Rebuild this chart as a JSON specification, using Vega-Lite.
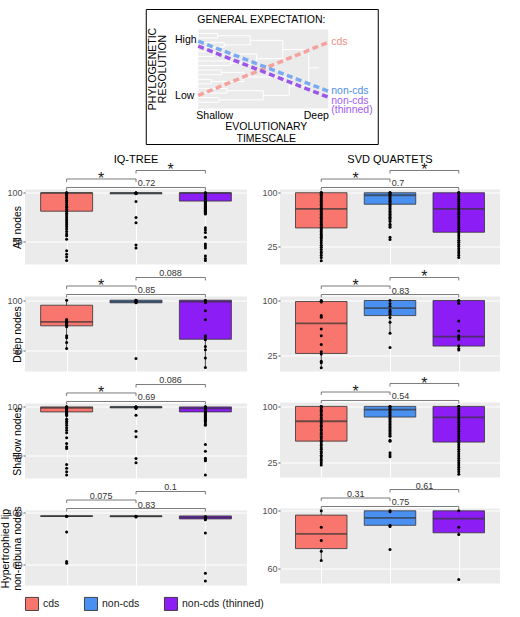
{
"padding":{"left":0,"top":8.5,"right":0,"bottom":0},
"config":{"font":"Liberation Sans","view":{"stroke":null,"fill":"#EBEBEB"},
"axis":{"domain":false,"labelFontSize":9,"labelColor":"#4D4D4D","tickColor":"#333333","tickSize":2,"tickWidth":0.8,"labelPadding":1,"titleFontSize":10.5,"titleFontWeight":"normal","titleColor":"#000000","titlePadding":-16,"labelOverlap":false},
"title":{"fontSize":11,"fontWeight":"normal","anchor":"middle","color":"#000000"}},
"datasets":{
"insetRects":[{"part":"frame","x":-0.4,"x2":1.3846,"y":-0.4557,"y2":1.2532},{"part":"panel","x":0,"x2":1,"y":0,"y2":1}],
"insetTree":[
{"x":0,"x2":0.15,"y":0.95,"y2":0.95},{"x":0,"x2":0.15,"y":0.892,"y2":0.892},{"x":0,"x2":0.2,"y":0.834,"y2":0.834},{"x":0,"x2":0.2,"y":0.776,"y2":0.776},{"x":0,"x2":0.12,"y":0.718,"y2":0.718},{"x":0,"x2":0.12,"y":0.66,"y2":0.66},{"x":0,"x2":0.25,"y":0.602,"y2":0.602},{"x":0,"x2":0.25,"y":0.544,"y2":0.544},{"x":0,"x2":0.18,"y":0.486,"y2":0.486},{"x":0,"x2":0.18,"y":0.428,"y2":0.428},{"x":0,"x2":0.1,"y":0.37,"y2":0.37},{"x":0,"x2":0.1,"y":0.312,"y2":0.312},{"x":0,"x2":0.22,"y":0.254,"y2":0.254},{"x":0,"x2":0.22,"y":0.196,"y2":0.196},{"x":0,"x2":0.16,"y":0.138,"y2":0.138},{"x":0,"x2":0.16,"y":0.08,"y2":0.08},
{"x":0.15,"x2":0.4,"y":0.921,"y2":0.921},{"x":0.2,"x2":0.4,"y":0.805,"y2":0.805},{"x":0.12,"x2":0.45,"y":0.689,"y2":0.689},{"x":0.25,"x2":0.45,"y":0.573,"y2":0.573},{"x":0.18,"x2":0.35,"y":0.457,"y2":0.457},{"x":0.1,"x2":0.35,"y":0.341,"y2":0.341},{"x":0.22,"x2":0.5,"y":0.225,"y2":0.225},{"x":0.16,"x2":0.5,"y":0.109,"y2":0.109},
{"x":0.4,"x2":0.65,"y":0.863,"y2":0.863},{"x":0.45,"x2":0.65,"y":0.631,"y2":0.631},{"x":0.35,"x2":0.7,"y":0.399,"y2":0.399},{"x":0.5,"x2":0.7,"y":0.167,"y2":0.167},
{"x":0.65,"x2":0.85,"y":0.747,"y2":0.747},{"x":0.7,"x2":0.85,"y":0.283,"y2":0.283},{"x":0.85,"x2":0.93,"y":0.515,"y2":0.515},
{"x":0.15,"x2":0.15,"y":0.95,"y2":0.892},{"x":0.2,"x2":0.2,"y":0.834,"y2":0.776},{"x":0.12,"x2":0.12,"y":0.718,"y2":0.66},{"x":0.25,"x2":0.25,"y":0.602,"y2":0.544},{"x":0.18,"x2":0.18,"y":0.486,"y2":0.428},{"x":0.1,"x2":0.1,"y":0.37,"y2":0.312},{"x":0.22,"x2":0.22,"y":0.254,"y2":0.196},{"x":0.16,"x2":0.16,"y":0.138,"y2":0.08},
{"x":0.4,"x2":0.4,"y":0.921,"y2":0.805},{"x":0.45,"x2":0.45,"y":0.689,"y2":0.573},{"x":0.35,"x2":0.35,"y":0.457,"y2":0.341},{"x":0.5,"x2":0.5,"y":0.225,"y2":0.109},
{"x":0.65,"x2":0.65,"y":0.863,"y2":0.631},{"x":0.7,"x2":0.7,"y":0.399,"y2":0.167},{"x":0.85,"x2":0.85,"y":0.747,"y2":0.283}],
"insetLines":[{"series":"cds","x":0,"y":0.165},{"series":"cds","x":1,"y":0.839},{"series":"non-cds","x":0,"y":0.852},{"series":"non-cds","x":1,"y":0.219},{"series":"thinned","x":0,"y":0.789},{"series":"thinned","x":1,"y":0.143}],
"insetLabels":[{"label":"GENERAL EXPECTATION:","x":0.485,"y":1.114},{"label":"High","x":-0.096,"y":0.869},{"label":"Low","x":-0.104,"y":0.156},{"label":"Shallow","x":0.127,"y":-0.089},{"label":"Deep","x":0.908,"y":-0.089},{"label":"EVOLUTIONARY","x":0.523,"y":-0.228},{"label":"TIMESCALE","x":0.523,"y":-0.386}],
"insetTitles":[{"label":"PHYLOGENETIC","x":-0.348,"y":0.5},{"label":"RESOLUTION","x":-0.272,"y":0.5}],
"insetSeries":[{"label":"cds","series":"cds","x":1.023,"y":0.839},{"label":"non-cds","series":"non-cds","x":1.023,"y":0.219},{"label":"non-cds","series":"thinned","x":1.023,"y":0.101},{"label":"(thinned)","series":"thinned","x":1.023,"y":-0.025}],
"boxes":[
{"panel":"L1","method":"cds","lower":55.5,"q1":81,"median":100,"q3":100,"upper":100},
{"panel":"L1","method":"non-cds","lower":99,"q1":99,"median":100,"q3":100,"upper":100},
{"panel":"L1","method":"non-cds (thinned)","lower":78,"q1":91.5,"median":100,"q3":100,"upper":100},
{"panel":"L2","method":"cds","lower":51.7,"q1":74.4,"median":78.4,"q3":95,"upper":100},
{"panel":"L2","method":"non-cds","lower":97.4,"q1":97.4,"median":98.5,"q3":100,"upper":100},
{"panel":"L2","method":"non-cds (thinned)","lower":32.7,"q1":61,"median":98.5,"q3":100,"upper":100},
{"panel":"L3","method":"cds","lower":87.2,"q1":94.8,"median":99,"q3":100,"upper":100},
{"panel":"L3","method":"non-cds","lower":99,"q1":99,"median":100,"q3":100,"upper":100},
{"panel":"L3","method":"non-cds (thinned)","lower":87,"q1":94.8,"median":98.5,"q3":100,"upper":100},
{"panel":"L4","method":"cds","lower":97,"q1":97,"median":97.2,"q3":97.4,"upper":97.4},
{"panel":"L4","method":"non-cds","lower":96.5,"q1":96.8,"median":97.2,"q3":97.4,"upper":97.4},
{"panel":"L4","method":"non-cds (thinned)","lower":94.5,"q1":95.1,"median":96.3,"q3":97.4,"upper":97.4},
{"panel":"R1","method":"cds","lower":5.2,"q1":51,"median":77.5,"q3":100,"upper":100},
{"panel":"R1","method":"non-cds","lower":60,"q1":84,"median":96.5,"q3":100,"upper":100},
{"panel":"R1","method":"non-cds (thinned)","lower":10,"q1":45,"median":77.5,"q3":100,"upper":100},
{"panel":"R2","method":"cds","lower":7.6,"q1":27.3,"median":68.7,"q3":98.6,"upper":100},
{"panel":"R2","method":"non-cds","lower":54.9,"q1":79.3,"median":89.4,"q3":100,"upper":100},
{"panel":"R2","method":"non-cds (thinned)","lower":31.9,"q1":37.4,"median":50.3,"q3":100,"upper":100},
{"panel":"R3","method":"cds","lower":22,"q1":53.7,"median":80.2,"q3":100,"upper":100},
{"panel":"R3","method":"non-cds","lower":64,"q1":85.8,"median":95.6,"q3":100,"upper":100},
{"panel":"R3","method":"non-cds (thinned)","lower":9.5,"q1":52.4,"median":85.4,"q3":100,"upper":100},
{"panel":"R4","method":"cds","lower":65.4,"q1":73.7,"median":84,"q3":97,"upper":100},
{"panel":"R4","method":"non-cds","lower":89.1,"q1":89.9,"median":95.1,"q3":100,"upper":100},
{"panel":"R4","method":"non-cds (thinned)","lower":83.5,"q1":84.7,"median":94.6,"q3":100,"upper":100}],
"bracketEnds":[
{"panel":"L1","bracket":"b1","end":"cds","level":114.4,"tip":111.3},{"panel":"L1","bracket":"b1","end":"non-cds","level":114.4,"tip":111.3},{"panel":"L1","bracket":"b2","end":"non-cds","level":123.2,"tip":120.1},{"panel":"L1","bracket":"b2","end":"non-cds (thinned)","level":123.2,"tip":120.1},{"panel":"L1","bracket":"b3","end":"cds","level":105.6,"tip":102.5},{"panel":"L1","bracket":"b3","end":"non-cds (thinned)","level":105.6,"tip":102.5},
{"panel":"L2","bracket":"b1","end":"cds","level":114.2,"tip":111.2},{"panel":"L2","bracket":"b1","end":"non-cds","level":114.2,"tip":111.2},{"panel":"L2","bracket":"b2","end":"non-cds","level":122.7,"tip":119.7},{"panel":"L2","bracket":"b2","end":"non-cds (thinned)","level":122.7,"tip":119.7},{"panel":"L2","bracket":"b3","end":"cds","level":105.7,"tip":102.7},{"panel":"L2","bracket":"b3","end":"non-cds (thinned)","level":105.7,"tip":102.7},
{"panel":"L3","bracket":"b1","end":"cds","level":114.4,"tip":111.3},{"panel":"L3","bracket":"b1","end":"non-cds","level":114.4,"tip":111.3},{"panel":"L3","bracket":"b2","end":"non-cds","level":123.2,"tip":120.1},{"panel":"L3","bracket":"b2","end":"non-cds (thinned)","level":123.2,"tip":120.1},{"panel":"L3","bracket":"b3","end":"cds","level":105.6,"tip":102.5},{"panel":"L3","bracket":"b3","end":"non-cds (thinned)","level":105.6,"tip":102.5},
{"panel":"L4","bracket":"b1","end":"cds","level":109.7,"tip":107.4},{"panel":"L4","bracket":"b1","end":"non-cds","level":109.7,"tip":107.4},{"panel":"L4","bracket":"b2","end":"non-cds","level":116.3,"tip":114.0},{"panel":"L4","bracket":"b2","end":"non-cds (thinned)","level":116.3,"tip":114.0},{"panel":"L4","bracket":"b3","end":"cds","level":103.1,"tip":100.8},{"panel":"L4","bracket":"b3","end":"non-cds (thinned)","level":103.1,"tip":100.8},
{"panel":"R1","bracket":"b1","end":"cds","level":119.1,"tip":114.9},{"panel":"R1","bracket":"b1","end":"non-cds","level":119.1,"tip":114.9},{"panel":"R1","bracket":"b2","end":"non-cds","level":131.0,"tip":126.8},{"panel":"R1","bracket":"b2","end":"non-cds (thinned)","level":131.0,"tip":126.8},{"panel":"R1","bracket":"b3","end":"cds","level":107.3,"tip":103.1},{"panel":"R1","bracket":"b3","end":"non-cds (thinned)","level":107.3,"tip":103.1},
{"panel":"R2","bracket":"b1","end":"cds","level":119.9,"tip":115.8},{"panel":"R2","bracket":"b1","end":"non-cds","level":119.9,"tip":115.8},{"panel":"R2","bracket":"b2","end":"non-cds","level":131.6,"tip":127.5},{"panel":"R2","bracket":"b2","end":"non-cds (thinned)","level":131.6,"tip":127.5},{"panel":"R2","bracket":"b3","end":"cds","level":108.2,"tip":104.1},{"panel":"R2","bracket":"b3","end":"non-cds (thinned)","level":108.2,"tip":104.1},
{"panel":"R3","bracket":"b1","end":"cds","level":119.2,"tip":115.2},{"panel":"R3","bracket":"b1","end":"non-cds","level":119.2,"tip":115.2},{"panel":"R3","bracket":"b2","end":"non-cds","level":130.5,"tip":126.5},{"panel":"R3","bracket":"b2","end":"non-cds (thinned)","level":130.5,"tip":126.5},{"panel":"R3","bracket":"b3","end":"cds","level":107.9,"tip":103.9},{"panel":"R3","bracket":"b3","end":"non-cds (thinned)","level":107.9,"tip":103.9},
{"panel":"R4","bracket":"b1","end":"cds","level":108.9,"tip":106.8},{"panel":"R4","bracket":"b1","end":"non-cds","level":108.9,"tip":106.8},{"panel":"R4","bracket":"b2","end":"non-cds","level":114.8,"tip":112.7},{"panel":"R4","bracket":"b2","end":"non-cds (thinned)","level":114.8,"tip":112.7},{"panel":"R4","bracket":"b3","end":"cds","level":103.0,"tip":100.9},{"panel":"R4","bracket":"b3","end":"non-cds (thinned)","level":103.0,"tip":100.9}],
"brackets":[
{"panel":"L1","from":"cds","level":114.4,"label":"*","wide":false},{"panel":"L1","from":"non-cds","level":123.2,"label":"*","wide":false},{"panel":"L1","from":"cds","level":105.6,"label":"0.72","wide":true},
{"panel":"L2","from":"cds","level":114.2,"label":"*","wide":false},{"panel":"L2","from":"non-cds","level":122.7,"label":"0.088","wide":false},{"panel":"L2","from":"cds","level":105.7,"label":"0.85","wide":true},
{"panel":"L3","from":"cds","level":114.4,"label":"*","wide":false},{"panel":"L3","from":"non-cds","level":123.2,"label":"0.086","wide":false},{"panel":"L3","from":"cds","level":105.6,"label":"0.69","wide":true},
{"panel":"L4","from":"cds","level":109.7,"label":"0.075","wide":false},{"panel":"L4","from":"non-cds","level":116.3,"label":"0.1","wide":false},{"panel":"L4","from":"cds","level":103.1,"label":"0.83","wide":true},
{"panel":"R1","from":"cds","level":119.1,"label":"*","wide":false},{"panel":"R1","from":"non-cds","level":131.0,"label":"*","wide":false},{"panel":"R1","from":"cds","level":107.3,"label":"0.7","wide":true},
{"panel":"R2","from":"cds","level":119.9,"label":"*","wide":false},{"panel":"R2","from":"non-cds","level":131.6,"label":"*","wide":false},{"panel":"R2","from":"cds","level":108.2,"label":"0.83","wide":true},
{"panel":"R3","from":"cds","level":119.2,"label":"*","wide":false},{"panel":"R3","from":"non-cds","level":130.5,"label":"*","wide":false},{"panel":"R3","from":"cds","level":107.9,"label":"0.54","wide":true},
{"panel":"R4","from":"cds","level":108.9,"label":"0.31","wide":false},{"panel":"R4","from":"non-cds","level":114.8,"label":"0.61","wide":false},{"panel":"R4","from":"cds","level":103.0,"label":"0.75","wide":true}],
"points":[
{"panel":"L1","method":"cds","value":100},{"panel":"L1","method":"cds","value":100},{"panel":"L1","method":"cds","value":100},{"panel":"L1","method":"cds","value":100},{"panel":"L1","method":"cds","value":100},{"panel":"L1","method":"cds","value":100},{"panel":"L1","method":"cds","value":99},{"panel":"L1","method":"cds","value":98},{"panel":"L1","method":"cds","value":97},{"panel":"L1","method":"cds","value":95},{"panel":"L1","method":"cds","value":94},{"panel":"L1","method":"cds","value":92},{"panel":"L1","method":"cds","value":90},{"panel":"L1","method":"cds","value":88},{"panel":"L1","method":"cds","value":86},{"panel":"L1","method":"cds","value":85},{"panel":"L1","method":"cds","value":83},{"panel":"L1","method":"cds","value":81},{"panel":"L1","method":"cds","value":79},{"panel":"L1","method":"cds","value":77},{"panel":"L1","method":"cds","value":75},{"panel":"L1","method":"cds","value":73},{"panel":"L1","method":"cds","value":71},{"panel":"L1","method":"cds","value":69},{"panel":"L1","method":"cds","value":67},{"panel":"L1","method":"cds","value":65},{"panel":"L1","method":"cds","value":62.5},{"panel":"L1","method":"cds","value":60},{"panel":"L1","method":"cds","value":57.5},{"panel":"L1","method":"cds","value":55.5},{"panel":"L1","method":"cds","value":52},{"panel":"L1","method":"cds","value":40},{"panel":"L1","method":"cds","value":36.5},{"panel":"L1","method":"cds","value":33.5},{"panel":"L1","method":"cds","value":30},
{"panel":"L1","method":"non-cds","value":100},{"panel":"L1","method":"non-cds","value":100},{"panel":"L1","method":"non-cds","value":100},{"panel":"L1","method":"non-cds","value":100},{"panel":"L1","method":"non-cds","value":100},{"panel":"L1","method":"non-cds","value":99},{"panel":"L1","method":"non-cds","value":91},{"panel":"L1","method":"non-cds","value":74.5},{"panel":"L1","method":"non-cds","value":69},{"panel":"L1","method":"non-cds","value":46},{"panel":"L1","method":"non-cds","value":43},
{"panel":"L1","method":"non-cds (thinned)","value":100},{"panel":"L1","method":"non-cds (thinned)","value":100},{"panel":"L1","method":"non-cds (thinned)","value":100},{"panel":"L1","method":"non-cds (thinned)","value":100},{"panel":"L1","method":"non-cds (thinned)","value":100},{"panel":"L1","method":"non-cds (thinned)","value":99},{"panel":"L1","method":"non-cds (thinned)","value":98},{"panel":"L1","method":"non-cds (thinned)","value":97},{"panel":"L1","method":"non-cds (thinned)","value":96},{"panel":"L1","method":"non-cds (thinned)","value":95},{"panel":"L1","method":"non-cds (thinned)","value":94},{"panel":"L1","method":"non-cds (thinned)","value":93},{"panel":"L1","method":"non-cds (thinned)","value":92},{"panel":"L1","method":"non-cds (thinned)","value":91},{"panel":"L1","method":"non-cds (thinned)","value":90},{"panel":"L1","method":"non-cds (thinned)","value":89},{"panel":"L1","method":"non-cds (thinned)","value":88},{"panel":"L1","method":"non-cds (thinned)","value":87},{"panel":"L1","method":"non-cds (thinned)","value":86},{"panel":"L1","method":"non-cds (thinned)","value":85},{"panel":"L1","method":"non-cds (thinned)","value":84},{"panel":"L1","method":"non-cds (thinned)","value":83},{"panel":"L1","method":"non-cds (thinned)","value":82},{"panel":"L1","method":"non-cds (thinned)","value":81},{"panel":"L1","method":"non-cds (thinned)","value":80},{"panel":"L1","method":"non-cds (thinned)","value":79},{"panel":"L1","method":"non-cds (thinned)","value":78},{"panel":"L1","method":"non-cds (thinned)","value":64},{"panel":"L1","method":"non-cds (thinned)","value":61.5},{"panel":"L1","method":"non-cds (thinned)","value":59},{"panel":"L1","method":"non-cds (thinned)","value":54},{"panel":"L1","method":"non-cds (thinned)","value":47},{"panel":"L1","method":"non-cds (thinned)","value":45},{"panel":"L1","method":"non-cds (thinned)","value":43},{"panel":"L1","method":"non-cds (thinned)","value":34.5},{"panel":"L1","method":"non-cds (thinned)","value":32},{"panel":"L1","method":"non-cds (thinned)","value":30},
{"panel":"L2","method":"cds","value":100},{"panel":"L2","method":"cds","value":80.7},{"panel":"L2","method":"cds","value":79.5},{"panel":"L2","method":"cds","value":78.4},{"panel":"L2","method":"cds","value":77.5},{"panel":"L2","method":"cds","value":76.7},{"panel":"L2","method":"cds","value":75.8},{"panel":"L2","method":"cds","value":75},{"panel":"L2","method":"cds","value":73.4},{"panel":"L2","method":"cds","value":64.4},{"panel":"L2","method":"cds","value":62.4},{"panel":"L2","method":"cds","value":57.7},{"panel":"L2","method":"cds","value":51.7},
{"panel":"L2","method":"non-cds","value":100},{"panel":"L2","method":"non-cds","value":100},{"panel":"L2","method":"non-cds","value":99},{"panel":"L2","method":"non-cds","value":98},{"panel":"L2","method":"non-cds","value":97.5},{"panel":"L2","method":"non-cds","value":41.7},
{"panel":"L2","method":"non-cds (thinned)","value":100},{"panel":"L2","method":"non-cds (thinned)","value":99},{"panel":"L2","method":"non-cds (thinned)","value":97.4},{"panel":"L2","method":"non-cds (thinned)","value":89.4},{"panel":"L2","method":"non-cds (thinned)","value":80.4},{"panel":"L2","method":"non-cds (thinned)","value":64.4},{"panel":"L2","method":"non-cds (thinned)","value":62.7},{"panel":"L2","method":"non-cds (thinned)","value":60.4},{"panel":"L2","method":"non-cds (thinned)","value":53.7},{"panel":"L2","method":"non-cds (thinned)","value":50.4},{"panel":"L2","method":"non-cds (thinned)","value":42.4},{"panel":"L2","method":"non-cds (thinned)","value":32.7},
{"panel":"L3","method":"cds","value":100},{"panel":"L3","method":"cds","value":100},{"panel":"L3","method":"cds","value":100},{"panel":"L3","method":"cds","value":100},{"panel":"L3","method":"cds","value":100},{"panel":"L3","method":"cds","value":99},{"panel":"L3","method":"cds","value":98},{"panel":"L3","method":"cds","value":97},{"panel":"L3","method":"cds","value":96},{"panel":"L3","method":"cds","value":95},{"panel":"L3","method":"cds","value":94},{"panel":"L3","method":"cds","value":93},{"panel":"L3","method":"cds","value":92},{"panel":"L3","method":"cds","value":91},{"panel":"L3","method":"cds","value":87.2},{"panel":"L3","method":"cds","value":85.1},{"panel":"L3","method":"cds","value":83.4},{"panel":"L3","method":"cds","value":81},{"panel":"L3","method":"cds","value":78.3},{"panel":"L3","method":"cds","value":75.9},{"panel":"L3","method":"cds","value":73.1},{"panel":"L3","method":"cds","value":68},{"panel":"L3","method":"cds","value":62.1},{"panel":"L3","method":"cds","value":58.7},{"panel":"L3","method":"cds","value":56.9},{"panel":"L3","method":"cds","value":40.4},{"panel":"L3","method":"cds","value":36.3},{"panel":"L3","method":"cds","value":32.8},{"panel":"L3","method":"cds","value":29.3},
{"panel":"L3","method":"non-cds","value":100},{"panel":"L3","method":"non-cds","value":100},{"panel":"L3","method":"non-cds","value":100},{"panel":"L3","method":"non-cds","value":100},{"panel":"L3","method":"non-cds","value":99},{"panel":"L3","method":"non-cds","value":98.3},{"panel":"L3","method":"non-cds","value":91.3},{"panel":"L3","method":"non-cds","value":74.8},{"panel":"L3","method":"non-cds","value":69},{"panel":"L3","method":"non-cds","value":46.6},{"panel":"L3","method":"non-cds","value":42.1},
{"panel":"L3","method":"non-cds (thinned)","value":100},{"panel":"L3","method":"non-cds (thinned)","value":100},{"panel":"L3","method":"non-cds (thinned)","value":100},{"panel":"L3","method":"non-cds (thinned)","value":100},{"panel":"L3","method":"non-cds (thinned)","value":100},{"panel":"L3","method":"non-cds (thinned)","value":99},{"panel":"L3","method":"non-cds (thinned)","value":98},{"panel":"L3","method":"non-cds (thinned)","value":97},{"panel":"L3","method":"non-cds (thinned)","value":96},{"panel":"L3","method":"non-cds (thinned)","value":95},{"panel":"L3","method":"non-cds (thinned)","value":94},{"panel":"L3","method":"non-cds (thinned)","value":93},{"panel":"L3","method":"non-cds (thinned)","value":92},{"panel":"L3","method":"non-cds (thinned)","value":91},{"panel":"L3","method":"non-cds (thinned)","value":90},{"panel":"L3","method":"non-cds (thinned)","value":89},{"panel":"L3","method":"non-cds (thinned)","value":88},{"panel":"L3","method":"non-cds (thinned)","value":87},{"panel":"L3","method":"non-cds (thinned)","value":86},{"panel":"L3","method":"non-cds (thinned)","value":85},{"panel":"L3","method":"non-cds (thinned)","value":83.4},{"panel":"L3","method":"non-cds (thinned)","value":81.8},{"panel":"L3","method":"non-cds (thinned)","value":81},{"panel":"L3","method":"non-cds (thinned)","value":61},{"panel":"L3","method":"non-cds (thinned)","value":54.1},{"panel":"L3","method":"non-cds (thinned)","value":46.9},{"panel":"L3","method":"non-cds (thinned)","value":45.2},{"panel":"L3","method":"non-cds (thinned)","value":44.2},{"panel":"L3","method":"non-cds (thinned)","value":29.3},
{"panel":"L4","method":"cds","value":97.2},{"panel":"L4","method":"cds","value":97.2},{"panel":"L4","method":"cds","value":97.2},{"panel":"L4","method":"cds","value":85},{"panel":"L4","method":"cds","value":62.1},{"panel":"L4","method":"cds","value":60.8},
{"panel":"L4","method":"non-cds","value":97.2},{"panel":"L4","method":"non-cds","value":97.2},{"panel":"L4","method":"non-cds","value":96.5},
{"panel":"L4","method":"non-cds (thinned)","value":97},{"panel":"L4","method":"non-cds (thinned)","value":96.3},{"panel":"L4","method":"non-cds (thinned)","value":95.5},{"panel":"L4","method":"non-cds (thinned)","value":94.5},{"panel":"L4","method":"non-cds (thinned)","value":84.2},{"panel":"L4","method":"non-cds (thinned)","value":53},{"panel":"L4","method":"non-cds (thinned)","value":47},
{"panel":"R1","method":"cds","value":100},{"panel":"R1","method":"cds","value":100},{"panel":"R1","method":"cds","value":100},{"panel":"R1","method":"cds","value":98},{"panel":"R1","method":"cds","value":96},{"panel":"R1","method":"cds","value":94},{"panel":"R1","method":"cds","value":92},{"panel":"R1","method":"cds","value":90},{"panel":"R1","method":"cds","value":88},{"panel":"R1","method":"cds","value":86},{"panel":"R1","method":"cds","value":84},{"panel":"R1","method":"cds","value":82},{"panel":"R1","method":"cds","value":80},{"panel":"R1","method":"cds","value":78},{"panel":"R1","method":"cds","value":76},{"panel":"R1","method":"cds","value":74},{"panel":"R1","method":"cds","value":72},{"panel":"R1","method":"cds","value":70},{"panel":"R1","method":"cds","value":68},{"panel":"R1","method":"cds","value":66},{"panel":"R1","method":"cds","value":64},{"panel":"R1","method":"cds","value":62},{"panel":"R1","method":"cds","value":60},{"panel":"R1","method":"cds","value":58},{"panel":"R1","method":"cds","value":56},{"panel":"R1","method":"cds","value":54},{"panel":"R1","method":"cds","value":52},{"panel":"R1","method":"cds","value":50},{"panel":"R1","method":"cds","value":48},{"panel":"R1","method":"cds","value":46},{"panel":"R1","method":"cds","value":44},{"panel":"R1","method":"cds","value":42},{"panel":"R1","method":"cds","value":40},{"panel":"R1","method":"cds","value":38},{"panel":"R1","method":"cds","value":36},{"panel":"R1","method":"cds","value":33},{"panel":"R1","method":"cds","value":30},{"panel":"R1","method":"cds","value":27},{"panel":"R1","method":"cds","value":24},{"panel":"R1","method":"cds","value":21},{"panel":"R1","method":"cds","value":18},{"panel":"R1","method":"cds","value":16},{"panel":"R1","method":"cds","value":13},{"panel":"R1","method":"cds","value":10},{"panel":"R1","method":"cds","value":5.2},
{"panel":"R1","method":"non-cds","value":100},{"panel":"R1","method":"non-cds","value":100},{"panel":"R1","method":"non-cds","value":100},{"panel":"R1","method":"non-cds","value":98},{"panel":"R1","method":"non-cds","value":96},{"panel":"R1","method":"non-cds","value":94},{"panel":"R1","method":"non-cds","value":92},{"panel":"R1","method":"non-cds","value":90},{"panel":"R1","method":"non-cds","value":88},{"panel":"R1","method":"non-cds","value":86},{"panel":"R1","method":"non-cds","value":84},{"panel":"R1","method":"non-cds","value":82},{"panel":"R1","method":"non-cds","value":80},{"panel":"R1","method":"non-cds","value":78},{"panel":"R1","method":"non-cds","value":76},{"panel":"R1","method":"non-cds","value":74},{"panel":"R1","method":"non-cds","value":72},{"panel":"R1","method":"non-cds","value":70},{"panel":"R1","method":"non-cds","value":68},{"panel":"R1","method":"non-cds","value":66},{"panel":"R1","method":"non-cds","value":64},{"panel":"R1","method":"non-cds","value":62},{"panel":"R1","method":"non-cds","value":60},{"panel":"R1","method":"non-cds","value":56},{"panel":"R1","method":"non-cds","value":54.2},{"panel":"R1","method":"non-cds","value":52},{"panel":"R1","method":"non-cds","value":38.2},{"panel":"R1","method":"non-cds","value":35},
{"panel":"R1","method":"non-cds (thinned)","value":100},{"panel":"R1","method":"non-cds (thinned)","value":100},{"panel":"R1","method":"non-cds (thinned)","value":100},{"panel":"R1","method":"non-cds (thinned)","value":97},{"panel":"R1","method":"non-cds (thinned)","value":94},{"panel":"R1","method":"non-cds (thinned)","value":91},{"panel":"R1","method":"non-cds (thinned)","value":88},{"panel":"R1","method":"non-cds (thinned)","value":85},{"panel":"R1","method":"non-cds (thinned)","value":82},{"panel":"R1","method":"non-cds (thinned)","value":79},{"panel":"R1","method":"non-cds (thinned)","value":76},{"panel":"R1","method":"non-cds (thinned)","value":73},{"panel":"R1","method":"non-cds (thinned)","value":70},{"panel":"R1","method":"non-cds (thinned)","value":67},{"panel":"R1","method":"non-cds (thinned)","value":64},{"panel":"R1","method":"non-cds (thinned)","value":61},{"panel":"R1","method":"non-cds (thinned)","value":58},{"panel":"R1","method":"non-cds (thinned)","value":55},{"panel":"R1","method":"non-cds (thinned)","value":52},{"panel":"R1","method":"non-cds (thinned)","value":49},{"panel":"R1","method":"non-cds (thinned)","value":46},{"panel":"R1","method":"non-cds (thinned)","value":43},{"panel":"R1","method":"non-cds (thinned)","value":40},{"panel":"R1","method":"non-cds (thinned)","value":37},{"panel":"R1","method":"non-cds (thinned)","value":34},{"panel":"R1","method":"non-cds (thinned)","value":31},{"panel":"R1","method":"non-cds (thinned)","value":28},{"panel":"R1","method":"non-cds (thinned)","value":25},{"panel":"R1","method":"non-cds (thinned)","value":22},{"panel":"R1","method":"non-cds (thinned)","value":19},{"panel":"R1","method":"non-cds (thinned)","value":16},{"panel":"R1","method":"non-cds (thinned)","value":13},{"panel":"R1","method":"non-cds (thinned)","value":10},
{"panel":"R2","method":"cds","value":100},{"panel":"R2","method":"cds","value":99},{"panel":"R2","method":"cds","value":98},{"panel":"R2","method":"cds","value":79.3},{"panel":"R2","method":"cds","value":77},{"panel":"R2","method":"cds","value":60.8},{"panel":"R2","method":"cds","value":51.7},{"panel":"R2","method":"cds","value":39.7},{"panel":"R2","method":"cds","value":29.6},{"panel":"R2","method":"cds","value":26.4},{"panel":"R2","method":"cds","value":16.7},{"panel":"R2","method":"cds","value":14.5},{"panel":"R2","method":"cds","value":7.6},
{"panel":"R2","method":"non-cds","value":100},{"panel":"R2","method":"non-cds","value":96},{"panel":"R2","method":"non-cds","value":92},{"panel":"R2","method":"non-cds","value":87},{"panel":"R2","method":"non-cds","value":85},{"panel":"R2","method":"non-cds","value":83},{"panel":"R2","method":"non-cds","value":81},{"panel":"R2","method":"non-cds","value":76.6},{"panel":"R2","method":"non-cds","value":70},{"panel":"R2","method":"non-cds","value":54.9},{"panel":"R2","method":"non-cds","value":35.6},
{"panel":"R2","method":"non-cds (thinned)","value":100},{"panel":"R2","method":"non-cds (thinned)","value":98.6},{"panel":"R2","method":"non-cds (thinned)","value":96},{"panel":"R2","method":"non-cds (thinned)","value":71.9},{"panel":"R2","method":"non-cds (thinned)","value":58},{"panel":"R2","method":"non-cds (thinned)","value":51.7},{"panel":"R2","method":"non-cds (thinned)","value":49},{"panel":"R2","method":"non-cds (thinned)","value":46.6},{"panel":"R2","method":"non-cds (thinned)","value":37.9},{"panel":"R2","method":"non-cds (thinned)","value":34.2},{"panel":"R2","method":"non-cds (thinned)","value":31.9},
{"panel":"R3","method":"cds","value":100},{"panel":"R3","method":"cds","value":100},{"panel":"R3","method":"cds","value":98},{"panel":"R3","method":"cds","value":95},{"panel":"R3","method":"cds","value":93},{"panel":"R3","method":"cds","value":90},{"panel":"R3","method":"cds","value":88},{"panel":"R3","method":"cds","value":85},{"panel":"R3","method":"cds","value":83},{"panel":"R3","method":"cds","value":80},{"panel":"R3","method":"cds","value":78},{"panel":"R3","method":"cds","value":75},{"panel":"R3","method":"cds","value":73},{"panel":"R3","method":"cds","value":70},{"panel":"R3","method":"cds","value":68},{"panel":"R3","method":"cds","value":65},{"panel":"R3","method":"cds","value":63},{"panel":"R3","method":"cds","value":60},{"panel":"R3","method":"cds","value":58},{"panel":"R3","method":"cds","value":55},{"panel":"R3","method":"cds","value":53},{"panel":"R3","method":"cds","value":50},{"panel":"R3","method":"cds","value":48},{"panel":"R3","method":"cds","value":45},{"panel":"R3","method":"cds","value":43},{"panel":"R3","method":"cds","value":40},{"panel":"R3","method":"cds","value":38},{"panel":"R3","method":"cds","value":35},{"panel":"R3","method":"cds","value":33},{"panel":"R3","method":"cds","value":30},{"panel":"R3","method":"cds","value":28},{"panel":"R3","method":"cds","value":25},{"panel":"R3","method":"cds","value":22},
{"panel":"R3","method":"non-cds","value":100},{"panel":"R3","method":"non-cds","value":100},{"panel":"R3","method":"non-cds","value":98},{"panel":"R3","method":"non-cds","value":96},{"panel":"R3","method":"non-cds","value":94},{"panel":"R3","method":"non-cds","value":92},{"panel":"R3","method":"non-cds","value":90},{"panel":"R3","method":"non-cds","value":88},{"panel":"R3","method":"non-cds","value":86},{"panel":"R3","method":"non-cds","value":84},{"panel":"R3","method":"non-cds","value":82},{"panel":"R3","method":"non-cds","value":80},{"panel":"R3","method":"non-cds","value":78},{"panel":"R3","method":"non-cds","value":76},{"panel":"R3","method":"non-cds","value":74},{"panel":"R3","method":"non-cds","value":72},{"panel":"R3","method":"non-cds","value":70},{"panel":"R3","method":"non-cds","value":68},{"panel":"R3","method":"non-cds","value":66},{"panel":"R3","method":"non-cds","value":64},{"panel":"R3","method":"non-cds","value":62},{"panel":"R3","method":"non-cds","value":60.3},{"panel":"R3","method":"non-cds","value":55},{"panel":"R3","method":"non-cds","value":53.7},{"panel":"R3","method":"non-cds","value":38.2},{"panel":"R3","method":"non-cds","value":35.2},{"panel":"R3","method":"non-cds","value":33},
{"panel":"R3","method":"non-cds (thinned)","value":100},{"panel":"R3","method":"non-cds (thinned)","value":100},{"panel":"R3","method":"non-cds (thinned)","value":97},{"panel":"R3","method":"non-cds (thinned)","value":94},{"panel":"R3","method":"non-cds (thinned)","value":91},{"panel":"R3","method":"non-cds (thinned)","value":88},{"panel":"R3","method":"non-cds (thinned)","value":85},{"panel":"R3","method":"non-cds (thinned)","value":82},{"panel":"R3","method":"non-cds (thinned)","value":79},{"panel":"R3","method":"non-cds (thinned)","value":76},{"panel":"R3","method":"non-cds (thinned)","value":73},{"panel":"R3","method":"non-cds (thinned)","value":70},{"panel":"R3","method":"non-cds (thinned)","value":67},{"panel":"R3","method":"non-cds (thinned)","value":64},{"panel":"R3","method":"non-cds (thinned)","value":61},{"panel":"R3","method":"non-cds (thinned)","value":58},{"panel":"R3","method":"non-cds (thinned)","value":55},{"panel":"R3","method":"non-cds (thinned)","value":52},{"panel":"R3","method":"non-cds (thinned)","value":49},{"panel":"R3","method":"non-cds (thinned)","value":46},{"panel":"R3","method":"non-cds (thinned)","value":43},{"panel":"R3","method":"non-cds (thinned)","value":40},{"panel":"R3","method":"non-cds (thinned)","value":37},{"panel":"R3","method":"non-cds (thinned)","value":34},{"panel":"R3","method":"non-cds (thinned)","value":31},{"panel":"R3","method":"non-cds (thinned)","value":28},{"panel":"R3","method":"non-cds (thinned)","value":25},{"panel":"R3","method":"non-cds (thinned)","value":22},{"panel":"R3","method":"non-cds (thinned)","value":19},{"panel":"R3","method":"non-cds (thinned)","value":16},{"panel":"R3","method":"non-cds (thinned)","value":13},{"panel":"R3","method":"non-cds (thinned)","value":9.5},
{"panel":"R4","method":"cds","value":100},{"panel":"R4","method":"cds","value":88.5},{"panel":"R4","method":"cds","value":79.3},{"panel":"R4","method":"cds","value":71.8},{"panel":"R4","method":"cds","value":65.4},
{"panel":"R4","method":"non-cds","value":100},{"panel":"R4","method":"non-cds","value":99.3},{"panel":"R4","method":"non-cds","value":89.9},{"panel":"R4","method":"non-cds","value":89.1},{"panel":"R4","method":"non-cds","value":73},
{"panel":"R4","method":"non-cds (thinned)","value":100},{"panel":"R4","method":"non-cds (thinned)","value":88.5},{"panel":"R4","method":"non-cds (thinned)","value":83.5},{"panel":"R4","method":"non-cds (thinned)","value":52.2}]
},
"spacing":8,
"center":true,
"vconcat":[
{"width":232,"height":135,"layer":[
{"data":{"name":"insetRects"},"transform":[{"filter":"datum.part == 'frame'"}],"mark":{"type":"rect","fill":"#FFFFFF","stroke":"#000000","strokeWidth":1},"encoding":{"x":{"field":"x","type":"quantitative","scale":{"domain":[-0.4,1.3846],"nice":false,"zero":false},"axis":null},"x2":{"field":"x2"},"y":{"field":"y","type":"quantitative","scale":{"domain":[-0.4557,1.2532],"nice":false,"zero":false},"axis":null},"y2":{"field":"y2"}}},
{"data":{"name":"insetRects"},"transform":[{"filter":"datum.part == 'panel'"}],"mark":{"type":"rect","fill":"#EBEBEB"},"encoding":{"x":{"field":"x","type":"quantitative","scale":{"domain":[-0.4,1.3846],"nice":false,"zero":false},"axis":null},"x2":{"field":"x2"},"y":{"field":"y","type":"quantitative","scale":{"domain":[-0.4557,1.2532],"nice":false,"zero":false},"axis":null},"y2":{"field":"y2"}}},
{"data":{"name":"insetTree"},"mark":{"type":"rule","color":"#FFFFFF","strokeWidth":1},"encoding":{"x":{"field":"x","type":"quantitative","scale":{"domain":[-0.4,1.3846],"nice":false,"zero":false},"axis":null},"x2":{"field":"x2"},"y":{"field":"y","type":"quantitative","scale":{"domain":[-0.4557,1.2532],"nice":false,"zero":false},"axis":null},"y2":{"field":"y2"}}},
{"data":{"name":"insetLines"},"mark":{"type":"line","strokeWidth":3.5,"strokeDash":[6,3.5]},"encoding":{"x":{"field":"x","type":"quantitative","scale":{"domain":[-0.4,1.3846],"nice":false,"zero":false},"axis":null},"y":{"field":"y","type":"quantitative","scale":{"domain":[-0.4557,1.2532],"nice":false,"zero":false},"axis":null},"stroke":{"field":"series","type":"nominal","scale":{"domain":["cds","non-cds","thinned"],"range":["#F4A29B","#7AAAF0","#9D55E8"]},"legend":null}}},
{"data":{"name":"insetLabels"},"mark":{"type":"text","fontSize":10.5,"baseline":"middle","color":"#000000"},"encoding":{"x":{"field":"x","type":"quantitative","scale":{"domain":[-0.4,1.3846],"nice":false,"zero":false},"axis":null},"y":{"field":"y","type":"quantitative","scale":{"domain":[-0.4557,1.2532],"nice":false,"zero":false},"axis":null},"text":{"field":"label"}}},
{"data":{"name":"insetTitles"},"mark":{"type":"text","fontSize":10.5,"baseline":"middle","angle":270,"color":"#000000"},"encoding":{"x":{"field":"x","type":"quantitative","scale":{"domain":[-0.4,1.3846],"nice":false,"zero":false},"axis":null},"y":{"field":"y","type":"quantitative","scale":{"domain":[-0.4557,1.2532],"nice":false,"zero":false},"axis":null},"text":{"field":"label"}}},
{"data":{"name":"insetSeries"},"mark":{"type":"text","fontSize":10.5,"baseline":"middle","align":"left"},"encoding":{"x":{"field":"x","type":"quantitative","scale":{"domain":[-0.4,1.3846],"nice":false,"zero":false},"axis":null},"y":{"field":"y","type":"quantitative","scale":{"domain":[-0.4557,1.2532],"nice":false,"zero":false},"axis":null},"text":{"field":"label"},"color":{"field":"series","type":"nominal","scale":{"domain":["cds","non-cds","thinned"],"range":["#F08E86","#4C8EE8","#A35CEF"]},"legend":null}}}
]},
{"spacing":14,"hconcat":[
{"spacing":4,"vconcat":[
{"width":222,"height":75,"title":{"text":"IQ-TREE","offset":-3},"layer":[
{"data":{"name":"boxes"},"transform":[{"filter":"datum.panel == 'L1'"}],"mark":{"type":"rule","color":"#1A1A1A","strokeWidth":0.8},"encoding":{"x":{"field":"method","type":"nominal","title":null,"scale":{"domain":["cds","non-cds","non-cds (thinned)"],"type":"point","padding":0.6},"axis":{"labels":false,"ticks":false,"grid":true,"gridColor":"#FFFFFF","gridWidth":1.1}},"y":{"field":"lower","type":"quantitative","title":["","All nodes"],"scale":{"domain":[25.8,103.5],"nice":false,"zero":false},"axis":{"values":[25,50,75,100],"format":"d","labelOverlap":false,"grid":true,"gridColor":"#FFFFFF","gridWidth":1.1}},"y2":{"field":"upper"}}},
{"data":{"name":"boxes"},"transform":[{"filter":"datum.panel == 'L1'"}],"mark":{"type":"bar","width":52,"stroke":"#333333","strokeWidth":0.8},"encoding":{"x":{"field":"method","type":"nominal","title":null,"scale":{"domain":["cds","non-cds","non-cds (thinned)"],"type":"point","padding":0.6}},"y":{"field":"q1","type":"quantitative","scale":{"domain":[25.8,103.5],"nice":false,"zero":false}},"y2":{"field":"q3"},"fill":{"field":"method","type":"nominal","scale":{"domain":["cds","non-cds","non-cds (thinned)"],"range":["#F8766D","#4A90F0","#8C1EF5"]},"legend":{"orient":"bottom","direction":"horizontal","title":null,"offset":6,"symbolType":"square","symbolSize":170,"symbolStrokeColor":"#222222","symbolStrokeWidth":0.8,"labelFontSize":10.5,"labelColor":"#1A1A1A","columnPadding":22}}}},
{"data":{"name":"boxes"},"transform":[{"filter":"datum.panel == 'L1'"}],"mark":{"type":"tick","size":52,"thickness":1.8,"color":"#333333"},"encoding":{"x":{"field":"method","type":"nominal","title":null,"scale":{"domain":["cds","non-cds","non-cds (thinned)"],"type":"point","padding":0.6}},"y":{"field":"median","type":"quantitative","scale":{"domain":[25.8,103.5],"nice":false,"zero":false}}}},
{"data":{"name":"points"},"transform":[{"filter":"datum.panel == 'L1'"}],"mark":{"type":"point","filled":true,"size":9,"color":"#000000","opacity":1},"encoding":{"x":{"field":"method","type":"nominal","title":null,"scale":{"domain":["cds","non-cds","non-cds (thinned)"],"type":"point","padding":0.6}},"y":{"field":"value","type":"quantitative","scale":{"domain":[25.8,103.5],"nice":false,"zero":false}}}},
{"data":{"name":"bracketEnds"},"transform":[{"filter":"datum.panel == 'L1'"}],"mark":{"type":"line","color":"#595959","strokeWidth":0.8},"encoding":{"x":{"field":"end","type":"nominal","title":null,"scale":{"domain":["cds","non-cds","non-cds (thinned)"],"type":"point","padding":0.6}},"y":{"field":"level","type":"quantitative","scale":{"domain":[25.8,103.5],"nice":false,"zero":false}},"detail":{"field":"bracket"}}},
{"data":{"name":"bracketEnds"},"transform":[{"filter":"datum.panel == 'L1'"}],"mark":{"type":"rule","color":"#595959","strokeWidth":0.8},"encoding":{"x":{"field":"end","type":"nominal","title":null,"scale":{"domain":["cds","non-cds","non-cds (thinned)"],"type":"point","padding":0.6}},"y":{"field":"level","type":"quantitative","scale":{"domain":[25.8,103.5],"nice":false,"zero":false}},"y2":{"field":"tip"}}},
{"data":{"name":"brackets"},"transform":[{"filter":"datum.panel == 'L1' && datum.label == '*'"}],"mark":{"type":"text","fontSize":16,"dx":34.5,"dy":5,"baseline":"alphabetic","color":"#1A1A1A"},"encoding":{"x":{"field":"from","type":"nominal","title":null,"scale":{"domain":["cds","non-cds","non-cds (thinned)"],"type":"point","padding":0.6}},"y":{"field":"level","type":"quantitative","scale":{"domain":[25.8,103.5],"nice":false,"zero":false}},"text":{"field":"label"}}},
{"data":{"name":"brackets"},"transform":[{"filter":"datum.panel == 'L1' && datum.wide"}],"mark":{"type":"text","fontSize":9,"dx":71,"dy":-1,"align":"left","baseline":"alphabetic","color":"#333333"},"encoding":{"x":{"field":"from","type":"nominal","title":null,"scale":{"domain":["cds","non-cds","non-cds (thinned)"],"type":"point","padding":0.6}},"y":{"field":"level","type":"quantitative","scale":{"domain":[25.8,103.5],"nice":false,"zero":false}},"text":{"field":"label"}}}
]},
{"width":222,"height":75,"layer":[
{"data":{"name":"boxes"},"transform":[{"filter":"datum.panel == 'L2'"}],"mark":{"type":"rule","color":"#1A1A1A","strokeWidth":0.8},"encoding":{"x":{"field":"method","type":"nominal","title":null,"scale":{"domain":["cds","non-cds","non-cds (thinned)"],"type":"point","padding":0.6},"axis":{"labels":false,"ticks":false,"grid":true,"gridColor":"#FFFFFF","gridWidth":1.1}},"y":{"field":"lower","type":"quantitative","title":["","Deep nodes"],"scale":{"domain":[28.8,103.7],"nice":false,"zero":false},"axis":{"values":[50,75,100],"format":"d","labelOverlap":false,"grid":true,"gridColor":"#FFFFFF","gridWidth":1.1}},"y2":{"field":"upper"}}},
{"data":{"name":"boxes"},"transform":[{"filter":"datum.panel == 'L2'"}],"mark":{"type":"bar","width":52,"stroke":"#333333","strokeWidth":0.8},"encoding":{"x":{"field":"method","type":"nominal","title":null,"scale":{"domain":["cds","non-cds","non-cds (thinned)"],"type":"point","padding":0.6}},"y":{"field":"q1","type":"quantitative","scale":{"domain":[28.8,103.7],"nice":false,"zero":false}},"y2":{"field":"q3"},"fill":{"field":"method","type":"nominal","scale":{"domain":["cds","non-cds","non-cds (thinned)"],"range":["#F8766D","#4A90F0","#8C1EF5"]},"legend":{"orient":"bottom","direction":"horizontal","title":null,"offset":6,"symbolType":"square","symbolSize":170,"symbolStrokeColor":"#222222","symbolStrokeWidth":0.8,"labelFontSize":10.5,"labelColor":"#1A1A1A","columnPadding":22}}}},
{"data":{"name":"boxes"},"transform":[{"filter":"datum.panel == 'L2'"}],"mark":{"type":"tick","size":52,"thickness":1.8,"color":"#333333"},"encoding":{"x":{"field":"method","type":"nominal","title":null,"scale":{"domain":["cds","non-cds","non-cds (thinned)"],"type":"point","padding":0.6}},"y":{"field":"median","type":"quantitative","scale":{"domain":[28.8,103.7],"nice":false,"zero":false}}}},
{"data":{"name":"points"},"transform":[{"filter":"datum.panel == 'L2'"}],"mark":{"type":"point","filled":true,"size":9,"color":"#000000","opacity":1},"encoding":{"x":{"field":"method","type":"nominal","title":null,"scale":{"domain":["cds","non-cds","non-cds (thinned)"],"type":"point","padding":0.6}},"y":{"field":"value","type":"quantitative","scale":{"domain":[28.8,103.7],"nice":false,"zero":false}}}},
{"data":{"name":"bracketEnds"},"transform":[{"filter":"datum.panel == 'L2'"}],"mark":{"type":"line","color":"#595959","strokeWidth":0.8},"encoding":{"x":{"field":"end","type":"nominal","title":null,"scale":{"domain":["cds","non-cds","non-cds (thinned)"],"type":"point","padding":0.6}},"y":{"field":"level","type":"quantitative","scale":{"domain":[28.8,103.7],"nice":false,"zero":false}},"detail":{"field":"bracket"}}},
{"data":{"name":"bracketEnds"},"transform":[{"filter":"datum.panel == 'L2'"}],"mark":{"type":"rule","color":"#595959","strokeWidth":0.8},"encoding":{"x":{"field":"end","type":"nominal","title":null,"scale":{"domain":["cds","non-cds","non-cds (thinned)"],"type":"point","padding":0.6}},"y":{"field":"level","type":"quantitative","scale":{"domain":[28.8,103.7],"nice":false,"zero":false}},"y2":{"field":"tip"}}},
{"data":{"name":"brackets"},"transform":[{"filter":"datum.panel == 'L2' && datum.label == '*'"}],"mark":{"type":"text","fontSize":16,"dx":34.5,"dy":5,"baseline":"alphabetic","color":"#1A1A1A"},"encoding":{"x":{"field":"from","type":"nominal","title":null,"scale":{"domain":["cds","non-cds","non-cds (thinned)"],"type":"point","padding":0.6}},"y":{"field":"level","type":"quantitative","scale":{"domain":[28.8,103.7],"nice":false,"zero":false}},"text":{"field":"label"}}},
{"data":{"name":"brackets"},"transform":[{"filter":"datum.panel == 'L2' && datum.label != '*' && !datum.wide"}],"mark":{"type":"text","fontSize":9,"dx":34.5,"dy":-1,"baseline":"alphabetic","color":"#333333"},"encoding":{"x":{"field":"from","type":"nominal","title":null,"scale":{"domain":["cds","non-cds","non-cds (thinned)"],"type":"point","padding":0.6}},"y":{"field":"level","type":"quantitative","scale":{"domain":[28.8,103.7],"nice":false,"zero":false}},"text":{"field":"label"}}},
{"data":{"name":"brackets"},"transform":[{"filter":"datum.panel == 'L2' && datum.wide"}],"mark":{"type":"text","fontSize":9,"dx":71,"dy":-1,"align":"left","baseline":"alphabetic","color":"#333333"},"encoding":{"x":{"field":"from","type":"nominal","title":null,"scale":{"domain":["cds","non-cds","non-cds (thinned)"],"type":"point","padding":0.6}},"y":{"field":"level","type":"quantitative","scale":{"domain":[28.8,103.7],"nice":false,"zero":false}},"text":{"field":"label"}}}
]},
{"width":222,"height":75,"layer":[
{"data":{"name":"boxes"},"transform":[{"filter":"datum.panel == 'L3'"}],"mark":{"type":"rule","color":"#1A1A1A","strokeWidth":0.8},"encoding":{"x":{"field":"method","type":"nominal","title":null,"scale":{"domain":["cds","non-cds","non-cds (thinned)"],"type":"point","padding":0.6},"axis":{"labels":false,"ticks":false,"grid":true,"gridColor":"#FFFFFF","gridWidth":1.1}},"y":{"field":"lower","type":"quantitative","title":["","Shallow nodes"],"scale":{"domain":[25.8,103.5],"nice":false,"zero":false},"axis":{"values":[25,50,75,100],"format":"d","labelOverlap":false,"grid":true,"gridColor":"#FFFFFF","gridWidth":1.1}},"y2":{"field":"upper"}}},
{"data":{"name":"boxes"},"transform":[{"filter":"datum.panel == 'L3'"}],"mark":{"type":"bar","width":52,"stroke":"#333333","strokeWidth":0.8},"encoding":{"x":{"field":"method","type":"nominal","title":null,"scale":{"domain":["cds","non-cds","non-cds (thinned)"],"type":"point","padding":0.6}},"y":{"field":"q1","type":"quantitative","scale":{"domain":[25.8,103.5],"nice":false,"zero":false}},"y2":{"field":"q3"},"fill":{"field":"method","type":"nominal","scale":{"domain":["cds","non-cds","non-cds (thinned)"],"range":["#F8766D","#4A90F0","#8C1EF5"]},"legend":{"orient":"bottom","direction":"horizontal","title":null,"offset":6,"symbolType":"square","symbolSize":170,"symbolStrokeColor":"#222222","symbolStrokeWidth":0.8,"labelFontSize":10.5,"labelColor":"#1A1A1A","columnPadding":22}}}},
{"data":{"name":"boxes"},"transform":[{"filter":"datum.panel == 'L3'"}],"mark":{"type":"tick","size":52,"thickness":1.8,"color":"#333333"},"encoding":{"x":{"field":"method","type":"nominal","title":null,"scale":{"domain":["cds","non-cds","non-cds (thinned)"],"type":"point","padding":0.6}},"y":{"field":"median","type":"quantitative","scale":{"domain":[25.8,103.5],"nice":false,"zero":false}}}},
{"data":{"name":"points"},"transform":[{"filter":"datum.panel == 'L3'"}],"mark":{"type":"point","filled":true,"size":9,"color":"#000000","opacity":1},"encoding":{"x":{"field":"method","type":"nominal","title":null,"scale":{"domain":["cds","non-cds","non-cds (thinned)"],"type":"point","padding":0.6}},"y":{"field":"value","type":"quantitative","scale":{"domain":[25.8,103.5],"nice":false,"zero":false}}}},
{"data":{"name":"bracketEnds"},"transform":[{"filter":"datum.panel == 'L3'"}],"mark":{"type":"line","color":"#595959","strokeWidth":0.8},"encoding":{"x":{"field":"end","type":"nominal","title":null,"scale":{"domain":["cds","non-cds","non-cds (thinned)"],"type":"point","padding":0.6}},"y":{"field":"level","type":"quantitative","scale":{"domain":[25.8,103.5],"nice":false,"zero":false}},"detail":{"field":"bracket"}}},
{"data":{"name":"bracketEnds"},"transform":[{"filter":"datum.panel == 'L3'"}],"mark":{"type":"rule","color":"#595959","strokeWidth":0.8},"encoding":{"x":{"field":"end","type":"nominal","title":null,"scale":{"domain":["cds","non-cds","non-cds (thinned)"],"type":"point","padding":0.6}},"y":{"field":"level","type":"quantitative","scale":{"domain":[25.8,103.5],"nice":false,"zero":false}},"y2":{"field":"tip"}}},
{"data":{"name":"brackets"},"transform":[{"filter":"datum.panel == 'L3' && datum.label == '*'"}],"mark":{"type":"text","fontSize":16,"dx":34.5,"dy":5,"baseline":"alphabetic","color":"#1A1A1A"},"encoding":{"x":{"field":"from","type":"nominal","title":null,"scale":{"domain":["cds","non-cds","non-cds (thinned)"],"type":"point","padding":0.6}},"y":{"field":"level","type":"quantitative","scale":{"domain":[25.8,103.5],"nice":false,"zero":false}},"text":{"field":"label"}}},
{"data":{"name":"brackets"},"transform":[{"filter":"datum.panel == 'L3' && datum.label != '*' && !datum.wide"}],"mark":{"type":"text","fontSize":9,"dx":34.5,"dy":-1,"baseline":"alphabetic","color":"#333333"},"encoding":{"x":{"field":"from","type":"nominal","title":null,"scale":{"domain":["cds","non-cds","non-cds (thinned)"],"type":"point","padding":0.6}},"y":{"field":"level","type":"quantitative","scale":{"domain":[25.8,103.5],"nice":false,"zero":false}},"text":{"field":"label"}}},
{"data":{"name":"brackets"},"transform":[{"filter":"datum.panel == 'L3' && datum.wide"}],"mark":{"type":"text","fontSize":9,"dx":71,"dy":-1,"align":"left","baseline":"alphabetic","color":"#333333"},"encoding":{"x":{"field":"from","type":"nominal","title":null,"scale":{"domain":["cds","non-cds","non-cds (thinned)"],"type":"point","padding":0.6}},"y":{"field":"level","type":"quantitative","scale":{"domain":[25.8,103.5],"nice":false,"zero":false}},"text":{"field":"label"}}}
]},
{"width":222,"height":75,"layer":[
{"data":{"name":"boxes"},"transform":[{"filter":"datum.panel == 'L4'"}],"mark":{"type":"rule","color":"#1A1A1A","strokeWidth":0.8},"encoding":{"x":{"field":"method","type":"nominal","title":null,"scale":{"domain":["cds","non-cds","non-cds (thinned)"],"type":"point","padding":0.6},"axis":{"labels":false,"ticks":false,"grid":true,"gridColor":"#FFFFFF","gridWidth":1.1}},"y":{"field":"lower","type":"quantitative","title":["Hypertrophied lip","non-mbuna nodes"],"scale":{"domain":[43.6,101.6],"nice":false,"zero":false},"axis":{"values":[60,80,100],"format":"d","labelOverlap":false,"grid":true,"gridColor":"#FFFFFF","gridWidth":1.1}},"y2":{"field":"upper"}}},
{"data":{"name":"boxes"},"transform":[{"filter":"datum.panel == 'L4'"}],"mark":{"type":"bar","width":52,"stroke":"#333333","strokeWidth":0.8},"encoding":{"x":{"field":"method","type":"nominal","title":null,"scale":{"domain":["cds","non-cds","non-cds (thinned)"],"type":"point","padding":0.6}},"y":{"field":"q1","type":"quantitative","scale":{"domain":[43.6,101.6],"nice":false,"zero":false}},"y2":{"field":"q3"},"fill":{"field":"method","type":"nominal","scale":{"domain":["cds","non-cds","non-cds (thinned)"],"range":["#F8766D","#4A90F0","#8C1EF5"]},"legend":{"orient":"bottom","direction":"horizontal","title":null,"offset":6,"symbolType":"square","symbolSize":170,"symbolStrokeColor":"#222222","symbolStrokeWidth":0.8,"labelFontSize":10.5,"labelColor":"#1A1A1A","columnPadding":22}}}},
{"data":{"name":"boxes"},"transform":[{"filter":"datum.panel == 'L4'"}],"mark":{"type":"tick","size":52,"thickness":1.8,"color":"#333333"},"encoding":{"x":{"field":"method","type":"nominal","title":null,"scale":{"domain":["cds","non-cds","non-cds (thinned)"],"type":"point","padding":0.6}},"y":{"field":"median","type":"quantitative","scale":{"domain":[43.6,101.6],"nice":false,"zero":false}}}},
{"data":{"name":"points"},"transform":[{"filter":"datum.panel == 'L4'"}],"mark":{"type":"point","filled":true,"size":9,"color":"#000000","opacity":1},"encoding":{"x":{"field":"method","type":"nominal","title":null,"scale":{"domain":["cds","non-cds","non-cds (thinned)"],"type":"point","padding":0.6}},"y":{"field":"value","type":"quantitative","scale":{"domain":[43.6,101.6],"nice":false,"zero":false}}}},
{"data":{"name":"bracketEnds"},"transform":[{"filter":"datum.panel == 'L4'"}],"mark":{"type":"line","color":"#595959","strokeWidth":0.8},"encoding":{"x":{"field":"end","type":"nominal","title":null,"scale":{"domain":["cds","non-cds","non-cds (thinned)"],"type":"point","padding":0.6}},"y":{"field":"level","type":"quantitative","scale":{"domain":[43.6,101.6],"nice":false,"zero":false}},"detail":{"field":"bracket"}}},
{"data":{"name":"bracketEnds"},"transform":[{"filter":"datum.panel == 'L4'"}],"mark":{"type":"rule","color":"#595959","strokeWidth":0.8},"encoding":{"x":{"field":"end","type":"nominal","title":null,"scale":{"domain":["cds","non-cds","non-cds (thinned)"],"type":"point","padding":0.6}},"y":{"field":"level","type":"quantitative","scale":{"domain":[43.6,101.6],"nice":false,"zero":false}},"y2":{"field":"tip"}}},
{"data":{"name":"brackets"},"transform":[{"filter":"datum.panel == 'L4' && !datum.wide"}],"mark":{"type":"text","fontSize":9,"dx":34.5,"dy":-1,"baseline":"alphabetic","color":"#333333"},"encoding":{"x":{"field":"from","type":"nominal","title":null,"scale":{"domain":["cds","non-cds","non-cds (thinned)"],"type":"point","padding":0.6}},"y":{"field":"level","type":"quantitative","scale":{"domain":[43.6,101.6],"nice":false,"zero":false}},"text":{"field":"label"}}},
{"data":{"name":"brackets"},"transform":[{"filter":"datum.panel == 'L4' && datum.wide"}],"mark":{"type":"text","fontSize":9,"dx":71,"dy":-1,"align":"left","baseline":"alphabetic","color":"#333333"},"encoding":{"x":{"field":"from","type":"nominal","title":null,"scale":{"domain":["cds","non-cds","non-cds (thinned)"],"type":"point","padding":0.6}},"y":{"field":"level","type":"quantitative","scale":{"domain":[43.6,101.6],"nice":false,"zero":false}},"text":{"field":"label"}}}
]}
]},
{"spacing":4,"vconcat":[
{"width":220,"height":75,"title":{"text":"SVD QUARTETS","offset":-3},"layer":[
{"data":{"name":"boxes"},"transform":[{"filter":"datum.panel == 'R1'"}],"mark":{"type":"rule","color":"#1A1A1A","strokeWidth":0.8},"encoding":{"x":{"field":"method","type":"nominal","title":null,"scale":{"domain":["cds","non-cds","non-cds (thinned)"],"type":"point","padding":0.6},"axis":{"labels":false,"ticks":false,"grid":true,"gridColor":"#FFFFFF","gridWidth":1.1}},"y":{"field":"lower","type":"quantitative","title":null,"scale":{"domain":[0.1,104.5],"nice":false,"zero":false},"axis":{"values":[25,50,75,100],"format":"d","labelOverlap":false,"grid":true,"gridColor":"#FFFFFF","gridWidth":1.1}},"y2":{"field":"upper"}}},
{"data":{"name":"boxes"},"transform":[{"filter":"datum.panel == 'R1'"}],"mark":{"type":"bar","width":51.5,"stroke":"#333333","strokeWidth":0.8},"encoding":{"x":{"field":"method","type":"nominal","title":null,"scale":{"domain":["cds","non-cds","non-cds (thinned)"],"type":"point","padding":0.6}},"y":{"field":"q1","type":"quantitative","scale":{"domain":[0.1,104.5],"nice":false,"zero":false}},"y2":{"field":"q3"},"fill":{"field":"method","type":"nominal","scale":{"domain":["cds","non-cds","non-cds (thinned)"],"range":["#F8766D","#4A90F0","#8C1EF5"]},"legend":{"orient":"bottom","direction":"horizontal","title":null,"offset":6,"symbolType":"square","symbolSize":170,"symbolStrokeColor":"#222222","symbolStrokeWidth":0.8,"labelFontSize":10.5,"labelColor":"#1A1A1A","columnPadding":22}}}},
{"data":{"name":"boxes"},"transform":[{"filter":"datum.panel == 'R1'"}],"mark":{"type":"tick","size":51.5,"thickness":1.8,"color":"#333333"},"encoding":{"x":{"field":"method","type":"nominal","title":null,"scale":{"domain":["cds","non-cds","non-cds (thinned)"],"type":"point","padding":0.6}},"y":{"field":"median","type":"quantitative","scale":{"domain":[0.1,104.5],"nice":false,"zero":false}}}},
{"data":{"name":"points"},"transform":[{"filter":"datum.panel == 'R1'"}],"mark":{"type":"point","filled":true,"size":9,"color":"#000000","opacity":1},"encoding":{"x":{"field":"method","type":"nominal","title":null,"scale":{"domain":["cds","non-cds","non-cds (thinned)"],"type":"point","padding":0.6}},"y":{"field":"value","type":"quantitative","scale":{"domain":[0.1,104.5],"nice":false,"zero":false}}}},
{"data":{"name":"bracketEnds"},"transform":[{"filter":"datum.panel == 'R1'"}],"mark":{"type":"line","color":"#595959","strokeWidth":0.8},"encoding":{"x":{"field":"end","type":"nominal","title":null,"scale":{"domain":["cds","non-cds","non-cds (thinned)"],"type":"point","padding":0.6}},"y":{"field":"level","type":"quantitative","scale":{"domain":[0.1,104.5],"nice":false,"zero":false}},"detail":{"field":"bracket"}}},
{"data":{"name":"bracketEnds"},"transform":[{"filter":"datum.panel == 'R1'"}],"mark":{"type":"rule","color":"#595959","strokeWidth":0.8},"encoding":{"x":{"field":"end","type":"nominal","title":null,"scale":{"domain":["cds","non-cds","non-cds (thinned)"],"type":"point","padding":0.6}},"y":{"field":"level","type":"quantitative","scale":{"domain":[0.1,104.5],"nice":false,"zero":false}},"y2":{"field":"tip"}}},
{"data":{"name":"brackets"},"transform":[{"filter":"datum.panel == 'R1' && datum.label == '*'"}],"mark":{"type":"text","fontSize":16,"dx":34.4,"dy":5,"baseline":"alphabetic","color":"#1A1A1A"},"encoding":{"x":{"field":"from","type":"nominal","title":null,"scale":{"domain":["cds","non-cds","non-cds (thinned)"],"type":"point","padding":0.6}},"y":{"field":"level","type":"quantitative","scale":{"domain":[0.1,104.5],"nice":false,"zero":false}},"text":{"field":"label"}}},
{"data":{"name":"brackets"},"transform":[{"filter":"datum.panel == 'R1' && datum.wide"}],"mark":{"type":"text","fontSize":9,"dx":70.5,"dy":-1,"align":"left","baseline":"alphabetic","color":"#333333"},"encoding":{"x":{"field":"from","type":"nominal","title":null,"scale":{"domain":["cds","non-cds","non-cds (thinned)"],"type":"point","padding":0.6}},"y":{"field":"level","type":"quantitative","scale":{"domain":[0.1,104.5],"nice":false,"zero":false}},"text":{"field":"label"}}}
]},
{"width":220,"height":75,"layer":[
{"data":{"name":"boxes"},"transform":[{"filter":"datum.panel == 'R2'"}],"mark":{"type":"rule","color":"#1A1A1A","strokeWidth":0.8},"encoding":{"x":{"field":"method","type":"nominal","title":null,"scale":{"domain":["cds","non-cds","non-cds (thinned)"],"type":"point","padding":0.6},"axis":{"labels":false,"ticks":false,"grid":true,"gridColor":"#FFFFFF","gridWidth":1.1}},"y":{"field":"lower","type":"quantitative","title":null,"scale":{"domain":[2.5,105.5],"nice":false,"zero":false},"axis":{"values":[25,50,75,100],"format":"d","labelOverlap":false,"grid":true,"gridColor":"#FFFFFF","gridWidth":1.1}},"y2":{"field":"upper"}}},
{"data":{"name":"boxes"},"transform":[{"filter":"datum.panel == 'R2'"}],"mark":{"type":"bar","width":51.5,"stroke":"#333333","strokeWidth":0.8},"encoding":{"x":{"field":"method","type":"nominal","title":null,"scale":{"domain":["cds","non-cds","non-cds (thinned)"],"type":"point","padding":0.6}},"y":{"field":"q1","type":"quantitative","scale":{"domain":[2.5,105.5],"nice":false,"zero":false}},"y2":{"field":"q3"},"fill":{"field":"method","type":"nominal","scale":{"domain":["cds","non-cds","non-cds (thinned)"],"range":["#F8766D","#4A90F0","#8C1EF5"]},"legend":{"orient":"bottom","direction":"horizontal","title":null,"offset":6,"symbolType":"square","symbolSize":170,"symbolStrokeColor":"#222222","symbolStrokeWidth":0.8,"labelFontSize":10.5,"labelColor":"#1A1A1A","columnPadding":22}}}},
{"data":{"name":"boxes"},"transform":[{"filter":"datum.panel == 'R2'"}],"mark":{"type":"tick","size":51.5,"thickness":1.8,"color":"#333333"},"encoding":{"x":{"field":"method","type":"nominal","title":null,"scale":{"domain":["cds","non-cds","non-cds (thinned)"],"type":"point","padding":0.6}},"y":{"field":"median","type":"quantitative","scale":{"domain":[2.5,105.5],"nice":false,"zero":false}}}},
{"data":{"name":"points"},"transform":[{"filter":"datum.panel == 'R2'"}],"mark":{"type":"point","filled":true,"size":9,"color":"#000000","opacity":1},"encoding":{"x":{"field":"method","type":"nominal","title":null,"scale":{"domain":["cds","non-cds","non-cds (thinned)"],"type":"point","padding":0.6}},"y":{"field":"value","type":"quantitative","scale":{"domain":[2.5,105.5],"nice":false,"zero":false}}}},
{"data":{"name":"bracketEnds"},"transform":[{"filter":"datum.panel == 'R2'"}],"mark":{"type":"line","color":"#595959","strokeWidth":0.8},"encoding":{"x":{"field":"end","type":"nominal","title":null,"scale":{"domain":["cds","non-cds","non-cds (thinned)"],"type":"point","padding":0.6}},"y":{"field":"level","type":"quantitative","scale":{"domain":[2.5,105.5],"nice":false,"zero":false}},"detail":{"field":"bracket"}}},
{"data":{"name":"bracketEnds"},"transform":[{"filter":"datum.panel == 'R2'"}],"mark":{"type":"rule","color":"#595959","strokeWidth":0.8},"encoding":{"x":{"field":"end","type":"nominal","title":null,"scale":{"domain":["cds","non-cds","non-cds (thinned)"],"type":"point","padding":0.6}},"y":{"field":"level","type":"quantitative","scale":{"domain":[2.5,105.5],"nice":false,"zero":false}},"y2":{"field":"tip"}}},
{"data":{"name":"brackets"},"transform":[{"filter":"datum.panel == 'R2' && datum.label == '*'"}],"mark":{"type":"text","fontSize":16,"dx":34.4,"dy":5,"baseline":"alphabetic","color":"#1A1A1A"},"encoding":{"x":{"field":"from","type":"nominal","title":null,"scale":{"domain":["cds","non-cds","non-cds (thinned)"],"type":"point","padding":0.6}},"y":{"field":"level","type":"quantitative","scale":{"domain":[2.5,105.5],"nice":false,"zero":false}},"text":{"field":"label"}}},
{"data":{"name":"brackets"},"transform":[{"filter":"datum.panel == 'R2' && datum.wide"}],"mark":{"type":"text","fontSize":9,"dx":70.5,"dy":-1,"align":"left","baseline":"alphabetic","color":"#333333"},"encoding":{"x":{"field":"from","type":"nominal","title":null,"scale":{"domain":["cds","non-cds","non-cds (thinned)"],"type":"point","padding":0.6}},"y":{"field":"level","type":"quantitative","scale":{"domain":[2.5,105.5],"nice":false,"zero":false}},"text":{"field":"label"}}}
]},
{"width":220,"height":75,"layer":[
{"data":{"name":"boxes"},"transform":[{"filter":"datum.panel == 'R3'"}],"mark":{"type":"rule","color":"#1A1A1A","strokeWidth":0.8},"encoding":{"x":{"field":"method","type":"nominal","title":null,"scale":{"domain":["cds","non-cds","non-cds (thinned)"],"type":"point","padding":0.6},"axis":{"labels":false,"ticks":false,"grid":true,"gridColor":"#FFFFFF","gridWidth":1.1}},"y":{"field":"lower","type":"quantitative","title":null,"scale":{"domain":[5.2,105.2],"nice":false,"zero":false},"axis":{"values":[25,50,75,100],"format":"d","labelOverlap":false,"grid":true,"gridColor":"#FFFFFF","gridWidth":1.1}},"y2":{"field":"upper"}}},
{"data":{"name":"boxes"},"transform":[{"filter":"datum.panel == 'R3'"}],"mark":{"type":"bar","width":51.5,"stroke":"#333333","strokeWidth":0.8},"encoding":{"x":{"field":"method","type":"nominal","title":null,"scale":{"domain":["cds","non-cds","non-cds (thinned)"],"type":"point","padding":0.6}},"y":{"field":"q1","type":"quantitative","scale":{"domain":[5.2,105.2],"nice":false,"zero":false}},"y2":{"field":"q3"},"fill":{"field":"method","type":"nominal","scale":{"domain":["cds","non-cds","non-cds (thinned)"],"range":["#F8766D","#4A90F0","#8C1EF5"]},"legend":{"orient":"bottom","direction":"horizontal","title":null,"offset":6,"symbolType":"square","symbolSize":170,"symbolStrokeColor":"#222222","symbolStrokeWidth":0.8,"labelFontSize":10.5,"labelColor":"#1A1A1A","columnPadding":22}}}},
{"data":{"name":"boxes"},"transform":[{"filter":"datum.panel == 'R3'"}],"mark":{"type":"tick","size":51.5,"thickness":1.8,"color":"#333333"},"encoding":{"x":{"field":"method","type":"nominal","title":null,"scale":{"domain":["cds","non-cds","non-cds (thinned)"],"type":"point","padding":0.6}},"y":{"field":"median","type":"quantitative","scale":{"domain":[5.2,105.2],"nice":false,"zero":false}}}},
{"data":{"name":"points"},"transform":[{"filter":"datum.panel == 'R3'"}],"mark":{"type":"point","filled":true,"size":9,"color":"#000000","opacity":1},"encoding":{"x":{"field":"method","type":"nominal","title":null,"scale":{"domain":["cds","non-cds","non-cds (thinned)"],"type":"point","padding":0.6}},"y":{"field":"value","type":"quantitative","scale":{"domain":[5.2,105.2],"nice":false,"zero":false}}}},
{"data":{"name":"bracketEnds"},"transform":[{"filter":"datum.panel == 'R3'"}],"mark":{"type":"line","color":"#595959","strokeWidth":0.8},"encoding":{"x":{"field":"end","type":"nominal","title":null,"scale":{"domain":["cds","non-cds","non-cds (thinned)"],"type":"point","padding":0.6}},"y":{"field":"level","type":"quantitative","scale":{"domain":[5.2,105.2],"nice":false,"zero":false}},"detail":{"field":"bracket"}}},
{"data":{"name":"bracketEnds"},"transform":[{"filter":"datum.panel == 'R3'"}],"mark":{"type":"rule","color":"#595959","strokeWidth":0.8},"encoding":{"x":{"field":"end","type":"nominal","title":null,"scale":{"domain":["cds","non-cds","non-cds (thinned)"],"type":"point","padding":0.6}},"y":{"field":"level","type":"quantitative","scale":{"domain":[5.2,105.2],"nice":false,"zero":false}},"y2":{"field":"tip"}}},
{"data":{"name":"brackets"},"transform":[{"filter":"datum.panel == 'R3' && datum.label == '*'"}],"mark":{"type":"text","fontSize":16,"dx":34.4,"dy":5,"baseline":"alphabetic","color":"#1A1A1A"},"encoding":{"x":{"field":"from","type":"nominal","title":null,"scale":{"domain":["cds","non-cds","non-cds (thinned)"],"type":"point","padding":0.6}},"y":{"field":"level","type":"quantitative","scale":{"domain":[5.2,105.2],"nice":false,"zero":false}},"text":{"field":"label"}}},
{"data":{"name":"brackets"},"transform":[{"filter":"datum.panel == 'R3' && datum.wide"}],"mark":{"type":"text","fontSize":9,"dx":70.5,"dy":-1,"align":"left","baseline":"alphabetic","color":"#333333"},"encoding":{"x":{"field":"from","type":"nominal","title":null,"scale":{"domain":["cds","non-cds","non-cds (thinned)"],"type":"point","padding":0.6}},"y":{"field":"level","type":"quantitative","scale":{"domain":[5.2,105.2],"nice":false,"zero":false}},"text":{"field":"label"}}}
]},
{"width":220,"height":75,"layer":[
{"data":{"name":"boxes"},"transform":[{"filter":"datum.panel == 'R4'"}],"mark":{"type":"rule","color":"#1A1A1A","strokeWidth":0.8},"encoding":{"x":{"field":"method","type":"nominal","title":null,"scale":{"domain":["cds","non-cds","non-cds (thinned)"],"type":"point","padding":0.6},"axis":{"labels":false,"ticks":false,"grid":true,"gridColor":"#FFFFFF","gridWidth":1.1}},"y":{"field":"lower","type":"quantitative","title":null,"scale":{"domain":[49.4,101.6],"nice":false,"zero":false},"axis":{"values":[60,80,100],"format":"d","labelOverlap":false,"grid":true,"gridColor":"#FFFFFF","gridWidth":1.1}},"y2":{"field":"upper"}}},
{"data":{"name":"boxes"},"transform":[{"filter":"datum.panel == 'R4'"}],"mark":{"type":"bar","width":51.5,"stroke":"#333333","strokeWidth":0.8},"encoding":{"x":{"field":"method","type":"nominal","title":null,"scale":{"domain":["cds","non-cds","non-cds (thinned)"],"type":"point","padding":0.6}},"y":{"field":"q1","type":"quantitative","scale":{"domain":[49.4,101.6],"nice":false,"zero":false}},"y2":{"field":"q3"},"fill":{"field":"method","type":"nominal","scale":{"domain":["cds","non-cds","non-cds (thinned)"],"range":["#F8766D","#4A90F0","#8C1EF5"]},"legend":{"orient":"bottom","direction":"horizontal","title":null,"offset":6,"symbolType":"square","symbolSize":170,"symbolStrokeColor":"#222222","symbolStrokeWidth":0.8,"labelFontSize":10.5,"labelColor":"#1A1A1A","columnPadding":22}}}},
{"data":{"name":"boxes"},"transform":[{"filter":"datum.panel == 'R4'"}],"mark":{"type":"tick","size":51.5,"thickness":1.8,"color":"#333333"},"encoding":{"x":{"field":"method","type":"nominal","title":null,"scale":{"domain":["cds","non-cds","non-cds (thinned)"],"type":"point","padding":0.6}},"y":{"field":"median","type":"quantitative","scale":{"domain":[49.4,101.6],"nice":false,"zero":false}}}},
{"data":{"name":"points"},"transform":[{"filter":"datum.panel == 'R4'"}],"mark":{"type":"point","filled":true,"size":9,"color":"#000000","opacity":1},"encoding":{"x":{"field":"method","type":"nominal","title":null,"scale":{"domain":["cds","non-cds","non-cds (thinned)"],"type":"point","padding":0.6}},"y":{"field":"value","type":"quantitative","scale":{"domain":[49.4,101.6],"nice":false,"zero":false}}}},
{"data":{"name":"bracketEnds"},"transform":[{"filter":"datum.panel == 'R4'"}],"mark":{"type":"line","color":"#595959","strokeWidth":0.8},"encoding":{"x":{"field":"end","type":"nominal","title":null,"scale":{"domain":["cds","non-cds","non-cds (thinned)"],"type":"point","padding":0.6}},"y":{"field":"level","type":"quantitative","scale":{"domain":[49.4,101.6],"nice":false,"zero":false}},"detail":{"field":"bracket"}}},
{"data":{"name":"bracketEnds"},"transform":[{"filter":"datum.panel == 'R4'"}],"mark":{"type":"rule","color":"#595959","strokeWidth":0.8},"encoding":{"x":{"field":"end","type":"nominal","title":null,"scale":{"domain":["cds","non-cds","non-cds (thinned)"],"type":"point","padding":0.6}},"y":{"field":"level","type":"quantitative","scale":{"domain":[49.4,101.6],"nice":false,"zero":false}},"y2":{"field":"tip"}}},
{"data":{"name":"brackets"},"transform":[{"filter":"datum.panel == 'R4' && !datum.wide"}],"mark":{"type":"text","fontSize":9,"dx":34.4,"dy":-1,"baseline":"alphabetic","color":"#333333"},"encoding":{"x":{"field":"from","type":"nominal","title":null,"scale":{"domain":["cds","non-cds","non-cds (thinned)"],"type":"point","padding":0.6}},"y":{"field":"level","type":"quantitative","scale":{"domain":[49.4,101.6],"nice":false,"zero":false}},"text":{"field":"label"}}},
{"data":{"name":"brackets"},"transform":[{"filter":"datum.panel == 'R4' && datum.wide"}],"mark":{"type":"text","fontSize":9,"dx":70.5,"dy":-1,"align":"left","baseline":"alphabetic","color":"#333333"},"encoding":{"x":{"field":"from","type":"nominal","title":null,"scale":{"domain":["cds","non-cds","non-cds (thinned)"],"type":"point","padding":0.6}},"y":{"field":"level","type":"quantitative","scale":{"domain":[49.4,101.6],"nice":false,"zero":false}},"text":{"field":"label"}}}
]}
]}
]}
]
}
